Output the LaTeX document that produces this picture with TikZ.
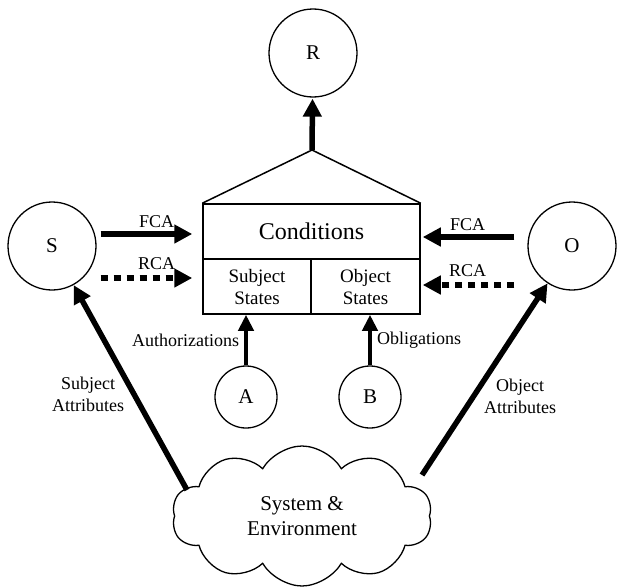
\documentclass[tikz,border=0pt]{standalone}
\usepackage{fontspec}
\setmainfont{Liberation Serif}
\usetikzlibrary{shapes.geometric, shapes.symbols, arrows.meta, positioning, calc}

\begin{document}
\begin{tikzpicture}[x=1pt, y=1pt,
        ent/.style={draw, circle, line width=1.3pt, font=\fontsize{21}{25}\selectfont},
        part/.style={draw, line width=1.5pt, align=center, inner sep=0pt},
        lbl/.style={font=\fontsize{18}{22}\selectfont},
        bigarrow/.style={line width=5.5pt, -{Triangle[length=18pt, width=18pt]}},
        midarrow/.style={line width=4pt, -{Triangle[length=16pt, width=15pt]}},
        dotarrow/.style={bigarrow, dash pattern=on 7pt off 6pt}]
    \useasboundingbox (0,0) rectangle (617,-586);

    % entities
    \node[ent, minimum size=88pt] (R) at (313,-53) {R};
    \node[ent, minimum size=88pt] (S) at (52,-246) {S};
    \node[ent, minimum size=88pt] (O) at (572,-246) {O};
    \node[ent, minimum size=62pt] (A) at (246,-397) {A};
    \node[ent, minimum size=62pt] (B) at (370,-397) {B};

    % decision box
    \node[part, minimum width=217pt, minimum height=55pt, font=\fontsize{24}{28}\selectfont] (cond) at (311.5,-231.5) {Conditions};
    \node[part, minimum width=108pt, minimum height=55pt, font=\fontsize{19}{22}\selectfont] (sstates) at (257,-286.5) {Subject\\States};
    \node[part, minimum width=109pt, minimum height=55pt, font=\fontsize{19}{22}\selectfont] (ostates) at (365.5,-286.5) {Object\\States};
    \coordinate (apex) at (312,-150);
    \draw[line width=1.5pt, line join=miter] (cond.north west) -- (apex) -- (cond.north east);
    \draw[bigarrow, shorten >=1pt] (apex) -- (R);

    % environment
    \node[draw, cloud, cloud puffs=10, cloud puff arc=120, aspect=2, line width=1.3pt, minimum width=260pt, minimum height=140pt,
          align=center, font=\fontsize{21}{25}\selectfont] (env) at (302,-516) {System \&\\Environment};

    % control actions
    \draw[bigarrow, shorten >=10pt] (S.east) ++(4,12) coordinate (sf) -- (sf -| cond.west) node[lbl, above, pos=0.55, inner sep=4pt] (sfca) {FCA};
    \draw[dotarrow, shorten >=10pt] (S.east) ++(4,-32) coordinate (sr) -- (sr -| cond.west) node[lbl, above, pos=0.55, inner sep=6pt] (srca) {RCA};
    \draw[bigarrow, shorten >=2pt] (O.west) ++(-13,9) coordinate (of) -- (of -| cond.east) node[lbl, above, pos=0.5, inner sep=4pt] (ofca) {FCA};
    \draw[dotarrow, shorten >=2pt] (O.west) ++(-13,-39) coordinate (or) -- (or -| cond.east) node[lbl, above, pos=0.5, inner sep=6pt] (orca) {RCA};

    % authorizations and obligations
    \draw[midarrow] (A.north) -- (A.north |- sstates.south) node[lbl, left, midway, inner sep=5pt] (auth) {Authorizations};
    \draw[midarrow] (B.north) -- (B.north |- ostates.south) node[lbl, right, midway, inner sep=5pt] (obl) {Obligations};

    % attributes
    \coordinate (sa) at (187,-490);
    \coordinate (oa) at (422,-475);
    \draw[bigarrow] (sa) -- (S);
    \draw[bigarrow] (oa) -- (O);
    \node[lbl, align=center] (sattr) at (88,-394) {Subject\\Attributes};
    \node[lbl, align=center] (oattr) at (520,-396) {Object\\Attributes};
\end{tikzpicture}
\end{document}
